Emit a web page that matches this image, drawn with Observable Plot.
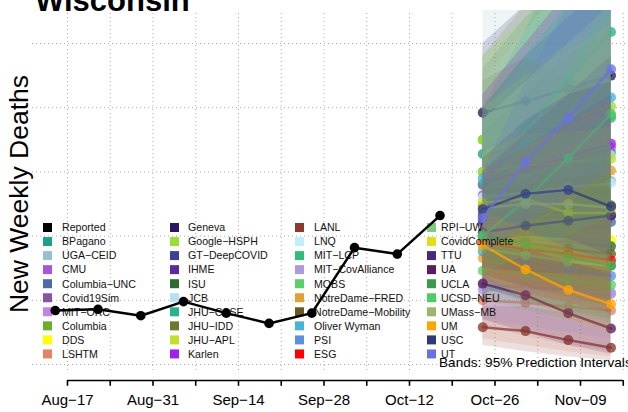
<!DOCTYPE html>
<html><head><meta charset="utf-8">
<script src="https://cdn.jsdelivr.net/npm/d3@7"></script>
<script src="https://cdn.jsdelivr.net/npm/@observablehq/plot@0.6"></script>
<style>
html,body{margin:0;padding:0;background:#fff;overflow:hidden;}
#chart{position:relative;width:628px;height:412px;}
</style></head><body><div id="chart"></div>
<script>
// ---------- data ----------
const titleText = "Wisconsin";
const yLabel = "New Weekly Deaths";
const bandsNote = "Bands: 95% Prediction Intervals";

const reportedDates = ["2020-08-15","2020-08-22","2020-08-29","2020-09-05","2020-09-12","2020-09-19","2020-09-26","2020-10-03","2020-10-10","2020-10-17"];
const reportedDeaths = [42, 43, 38, 49, 40, 32, 40, 91, 86, 116];

const forecastDates = ["2020-10-24","2020-10-31","2020-11-07","2020-11-14"];

const modelNames = ["BPagano","UGA−CEID","CMU","Columbia−UNC","Covid19Sim","MIT−ORC","Columbia","DDS","LSHTM",
  "Geneva","Google−HSPH","GT−DeepCOVID","IHME","ISU","JCB","JHU−CSSE","JHU−IDD","JHU−APL","Karlen",
  "LANL","LNQ","MIT−LCP","MIT−CovAlliance","MOBS","NotreDame−FRED","NotreDame−Mobility","Oliver Wyman","PSI","ESG",
  "RPI−UW","CovidComplete","TTU","UA","UCLA","UCSD−NEU","UMass−MB","UM","USC","UT"];
const modelColors = ["#1f9e89","#9ac0cd","#a45ad6","#4f69a9","#8a55a0","#c384e6","#6aae2d","#ffff00","#df8466",
  "#27185f","#9ade3a","#3b4399","#5a2ba0","#2d6a34","#b5e1ee","#27b38b","#6d7a2b","#c0e02a","#a020f0",
  "#8b3a2a","#c1eefa","#33bb78","#ab9bdc","#5ccf6a","#dfa13a","#6b5a1f","#4ab1d8","#5d8fe0","#ff0000",
  "#7ccd7c","#e0e01a","#46287f","#5a1d5f","#3e9a4b","#50cc66","#9cb56a","#ffa500","#2e3a72","#6a72e0"];

// forecast medians (Oct-24, Oct-31, Nov-07, Nov-14)
const fcMedian = [
  [164,168,168,165],[128,135,140,143],[132,145,158,169],[118,116,114,111],[110,112,114,116],
  [62,60,58,55],[175,185,190,194],[126,115,105,97],[50,48,45,42],
  [196,205,215,225],[175,184,192,201],[112,114,115,116],[115,117,118,117],[100,98,95,92],
  [140,148,156,163],[150,185,222,259],[124,125,125,124],[150,155,158,160],[140,152,162,172],
  [29,26,19,13],[130,134,138,141],[141,158,175,192],[58,58,57,56],[73,70,66,62],
  [83,105,128,151],[100,95,90,86],[145,172,190,208],[88,80,74,69],[95,90,86,81],
  [90,85,80,77],[126,129,118,118],[103,108,112,116],[63,54,40,28],[101,93,84,77],
  [100,128,161,195],[122,125,125,122],[93,74,58,47],[121,133,136,123],[114,158,192,230]
];
const fcLower = [
  [120,105,95,85],[60,50,40,35],[90,85,80,75],[85,70,60,50],[70,60,55,50],
  [30,22,15,10],[120,110,100,95],[80,65,55,45],[20,15,10,6],
  [150,140,135,130],[120,115,110,105],[70,60,55,50],[90,85,80,75],[60,50,42,35],
  [95,85,80,75],[110,125,140,150],[60,50,40,35],[110,105,100,95],[105,100,95,90],
  [15,10,6,3],[100,95,90,85],[110,115,120,125],[35,30,25,20],[50,42,35,28],
  [60,70,80,90],[70,60,52,45],[120,135,140,145],[60,48,40,32],[65,55,48,40],
  [60,50,42,36],[95,90,80,72],[75,72,70,68],[35,25,15,8],[80,70,60,52],
  [70,85,100,115],[90,85,80,75],[70,50,35,25],[95,100,98,85],[85,110,130,150]
];
const fcUpper = [
  [230,270,300,330],[310,340,370,400],[210,250,290,330],[190,220,250,280],[200,240,270,300],
  [100,110,115,120],[240,280,310,340],[200,230,250,270],[90,100,105,110],
  [250,280,310,340],[240,270,300,330],[200,240,270,300],[145,155,165,170],[180,210,240,260],
  [220,260,300,340],[200,260,330,400],[221,239,220,220],[200,225,245,265],[210,250,290,330],
  [45,45,40,35],[190,220,250,280],[200,240,280,320],[85,95,100,105],[100,105,105,105],
  [120,170,220,270],[135,140,145,150],[190,240,280,320],[150,170,185,200],[150,170,190,210],
  [150,170,185,200],[165,180,180,185],[150,180,210,240],[95,90,80,70],[140,150,160,170],
  [135,180,230,290],[190,220,250,280],[120,105,90,80],[160,190,210,220],[150,220,280,340]
];

const xTickDates = ["2020-08-17","2020-08-24","2020-08-31","2020-09-07","2020-09-14","2020-09-21","2020-09-28",
  "2020-10-05","2020-10-12","2020-10-19","2020-10-26","2020-11-02","2020-11-09","2020-11-16"];
const xLabelDates = ["2020-08-17","2020-08-31","2020-09-14","2020-09-28","2020-10-12","2020-10-26","2020-11-09"];
const xTickLabels = ["Aug−17","Aug−31","Sep−14","Sep−28","Oct−12","Oct−26","Nov−09"];
const yGrid = [0, 50, 100, 150, 200, 250];

// ---------- build ----------
const D = s => new Date(s);
const xDomain = [new Date("2020-08-11T06:30:00Z"), new Date("2020-11-16T20:40:00Z")];
const yDomain = [-12.46, 275.7];
const yAxisLevel = yDomain[0];
const gridBottom = -4.7;
const FONT = "'Liberation Sans', Arial, sans-serif";

const reported = reportedDates.map((d, i) => ({date: D(d), value: reportedDeaths[i]}));
const ticks = xTickDates.map(D);
const labelDates = xLabelDates.map(D);

const modelMarks = [];
modelNames.forEach((name, i) => {
  const rows = forecastDates.map((d, j) => ({date: D(d), med: fcMedian[i][j], lo: fcLower[i][j], hi: fcUpper[i][j]}));
  const c = modelColors[i];
  modelMarks.push(
    Plot.areaY(rows, {x: "date", y1: "lo", y2: "hi", fill: c, fillOpacity: 0.16, clip: true}),
    Plot.line(rows, {x: "date", y: "med", stroke: c, strokeWidth: 2.5, strokeOpacity: 0.75, clip: true}),
    Plot.dot(rows, {x: "date", y: "med", r: 5, fill: c, fillOpacity: 0.78, stroke: "none"})
  );
});

// legend as a function mark (drawn above the bands, below the reported series)
const legendNames = ["Reported", ...modelNames];
const legendColors = ["black", ...modelColors];
const colSwatchX = [43, 170, 295, 427];
const colTextX = [62, 188, 314, 441];
function legendMark() {
  const g = d3.create("svg:g").attr("font-family", FONT).attr("font-size", 10.6);
  legendNames.forEach((name, k) => {
    const c = Math.floor(k / 10), r = k % 10;
    const yc = 227.5 + r * 14.05;
    g.append("rect").attr("x", colSwatchX[c]).attr("y", yc - 4.5).attr("width", 9).attr("height", 9).attr("fill", legendColors[k]);
    g.append("text").attr("x", colTextX[c]).attr("y", yc).attr("dy", "0.36em").attr("fill", "#111").attr("text-anchor", "start").text(name);
  });
  return g.node();
}

const svg = Plot.plot({
  width: 628, height: 412,
  marginTop: 10, marginBottom: 32, marginLeft: 32, marginRight: 0,
  style: {background: "transparent", fontFamily: FONT, overflow: "visible"},
  x: {type: "utc", domain: xDomain, axis: null},
  y: {domain: yDomain, axis: null},
  marks: [
    Plot.ruleY(yGrid, {y: d => d, x1: () => xDomain[0], x2: () => xDomain[1], stroke: "#ababab", strokeWidth: 1, strokeDasharray: "1,3"}),
    Plot.ruleX(ticks, {x: d => d, y1: () => gridBottom, y2: () => yDomain[1], stroke: "#ababab", strokeWidth: 1, strokeDasharray: "1,3"}),
    ...modelMarks,
    legendMark,
    Plot.line(reported, {x: "date", y: "value", stroke: "black", strokeWidth: 2.5}),
    Plot.dot(reported, {x: "date", y: "value", r: 4.8, fill: "black", stroke: "none"}),
    Plot.ruleY([yAxisLevel], {y: d => d, x1: () => ticks[0], x2: () => ticks[ticks.length - 1], stroke: "black", strokeWidth: 1.6}),
    Plot.ruleX(ticks, {x: d => d, y1: () => yAxisLevel, y2: () => yAxisLevel - 4.5, stroke: "black", strokeWidth: 1.6}),
    Plot.text(labelDates, {x: d => d, y: () => yAxisLevel, dy: 20, text: (d, i) => xTickLabels[i], fontSize: 15, fill: "black"})
  ]
});

// texts
const deco = d3.select(svg).append("g").attr("font-family", FONT).attr("fill", "black");
deco.append("text").attr("x", 35).attr("y", 11).attr("font-size", 31).attr("font-weight", "bold").attr("text-anchor", "start").text(titleText);
deco.append("text").attr("transform", "translate(28,194) rotate(-90)").attr("font-size", 26.5).attr("text-anchor", "middle").text(yLabel);
deco.append("text").attr("x", 439).attr("y", 367).attr("font-size", 13.6).attr("text-anchor", "start").text(bandsNote);

document.getElementById("chart").appendChild(svg);
</script>
</body></html>
